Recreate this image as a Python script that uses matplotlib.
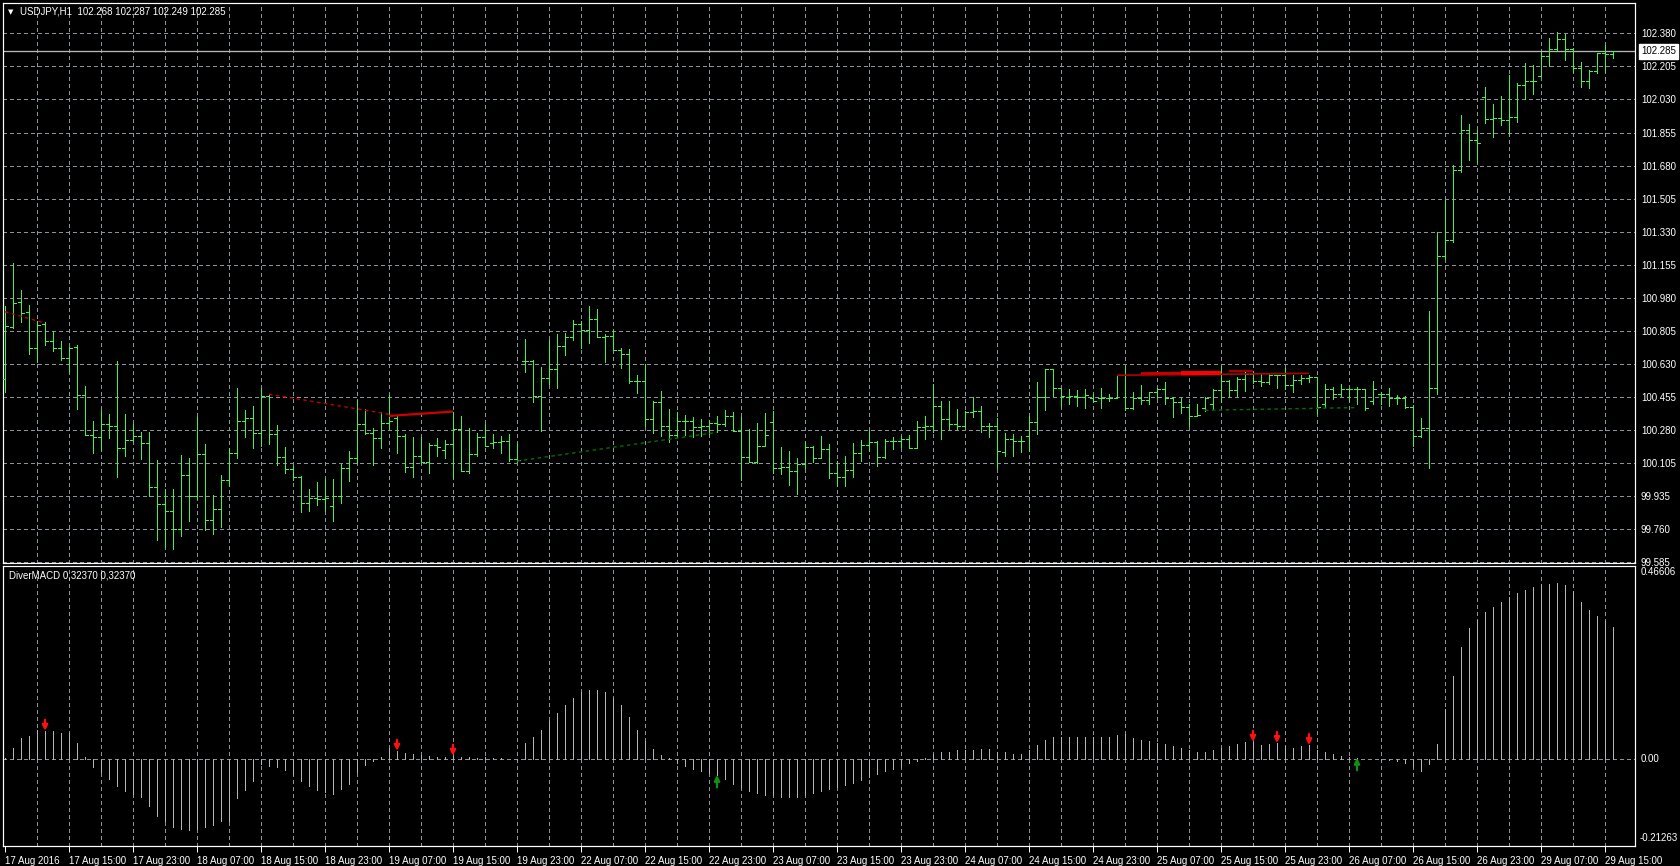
import matplotlib
matplotlib.use("Agg")
import matplotlib.pyplot as plt
import numpy as np

plt.rcParams['font.family'] = ['Liberation Sans', 'DejaVu Sans']
plt.rcParams['lines.scale_dashes'] = False

# ---------------- data ----------------
opens = [
    100.55, 100.824, 100.957, 100.906, 100.715, 100.842, 100.754, 100.715, 100.662, 100.718,
    100.466, 100.253, 100.246, 100.312, 100.303, 100.188, 100.230, 100.250, 100.213, 99.981,
    99.891, 99.852, 99.760, 100.041, 99.930, 100.153, 99.808, 99.861, 100.018, 100.161,
    100.329, 100.343, 100.268, 100.462, 100.259, 100.139, 100.077, 100.034, 99.893, 99.923,
    99.919, 99.880, 99.930, 100.082, 100.131, 100.312, 100.268, 100.241, 100.320, 100.343,
    100.250, 100.087, 100.144, 100.114, 100.202, 100.175, 100.206, 100.285, 100.064, 100.153,
    100.246, 100.213, 100.218, 100.223, 100.126, 100.648, 100.648, 100.459, 100.558, 100.605,
    100.724, 100.773, 100.844, 100.809, 100.870, 100.773, 100.777, 100.706, 100.681, 100.540,
    100.543, 100.340, 100.432, 100.305, 100.255, 100.328, 100.328, 100.296, 100.305, 100.317,
    100.314, 100.358, 100.275, 100.137, 100.110, 100.199, 100.326, 100.078, 100.084, 100.066,
    100.101, 100.190, 100.133, 100.181, 100.052, 100.034, 100.071, 100.158, 100.204, 100.216,
    100.140, 100.222, 100.222, 100.234, 100.186, 100.296, 100.300, 100.411, 100.340, 100.314,
    100.300, 100.375, 100.381, 100.305, 100.305, 100.163, 100.234, 100.225, 100.252, 100.326,
    100.455, 100.605, 100.504, 100.457, 100.462, 100.457, 100.453, 100.453, 100.453, 100.450,
    100.573, 100.397, 100.453, 100.439, 100.480, 100.497, 100.450, 100.432, 100.404, 100.356,
    100.397, 100.418, 100.492, 100.541, 100.492, 100.550, 100.580, 100.541, 100.533, 100.571,
    100.571, 100.518, 100.545, 100.559, 100.562, 100.418, 100.497, 100.471, 100.497, 100.497,
    100.497, 100.436, 100.471, 100.474, 100.453, 100.453, 100.404, 100.250, 100.291, 100.506,
    101.204, 101.284, 101.655, 101.867, 101.818, 102.044, 101.929, 101.934, 101.920, 101.938,
    102.106, 102.129, 102.154, 102.260, 102.299, 102.348, 102.299, 102.194, 102.129, 102.182,
    102.274, 102.268]

highs = [
    100.939, 101.166, 101.022, 100.943, 100.860, 100.851, 100.807, 100.754, 100.722, 100.731,
    100.515, 100.329, 100.386, 100.365, 100.644, 100.365, 100.312, 100.273, 100.273, 100.121,
    99.967, 99.967, 100.149, 100.135, 100.351, 100.206, 99.940, 100.041, 100.184, 100.501,
    100.388, 100.409, 100.501, 100.471, 100.308, 100.191, 100.089, 100.038, 99.967, 100.006,
    100.023, 100.020, 100.100, 100.170, 100.439, 100.391, 100.294, 100.379, 100.467, 100.356,
    100.259, 100.244, 100.244, 100.211, 100.241, 100.227, 100.379, 100.356, 100.294, 100.268,
    100.312, 100.259, 100.250, 100.259, 100.215, 100.763, 100.653, 100.614, 100.759, 100.787,
    100.794, 100.865, 100.858, 100.936, 100.923, 100.791, 100.812, 100.717, 100.708, 100.575,
    100.628, 100.434, 100.490, 100.390, 100.375, 100.361, 100.349, 100.340, 100.335, 100.353,
    100.388, 100.375, 100.349, 100.287, 100.319, 100.370, 100.384, 100.193, 100.172, 100.133,
    100.216, 100.199, 100.252, 100.207, 100.119, 100.146, 100.211, 100.229, 100.282, 100.222,
    100.234, 100.243, 100.252, 100.255, 100.328, 100.353, 100.526, 100.437, 100.437, 100.393,
    100.381, 100.455, 100.406, 100.317, 100.345, 100.264, 100.261, 100.252, 100.353, 100.535,
    100.605, 100.605, 100.506, 100.497, 100.492, 100.497, 100.471, 100.503, 100.474, 100.573,
    100.621, 100.484, 100.520, 100.485, 100.506, 100.533, 100.457, 100.453, 100.421, 100.418,
    100.457, 100.497, 100.621, 100.545, 100.562, 100.594, 100.585, 100.580, 100.576, 100.573,
    100.608, 100.571, 100.573, 100.573, 100.562, 100.524, 100.509, 100.524, 100.506, 100.509,
    100.497, 100.541, 100.484, 100.503, 100.468, 100.462, 100.414, 100.343, 100.909, 101.328,
    101.496, 101.682, 101.947, 101.899, 101.867, 102.097, 102.005, 102.048, 102.159, 102.115,
    102.224, 102.212, 102.283, 102.353, 102.389, 102.376, 102.300, 102.230, 102.186, 102.277,
    102.318, 102.287]

lows = [
    100.480, 100.821, 100.851, 100.683, 100.639, 100.729, 100.697, 100.651, 100.589, 100.391,
    100.253, 100.161, 100.176, 100.237, 100.034, 100.144, 100.223, 100.126, 99.930, 99.700,
    99.660, 99.650, 99.720, 99.800, 99.919, 99.750, 99.730, 99.770, 99.985, 100.135,
    100.246, 100.184, 100.197, 100.206, 100.096, 100.052, 100.015, 99.848, 99.855, 99.887,
    99.855, 99.800, 99.896, 100.011, 100.105, 100.262, 100.096, 100.188, 100.285, 100.161,
    100.059, 100.034, 100.108, 100.055, 100.144, 100.131, 100.025, 100.064, 100.055, 100.144,
    100.197, 100.188, 100.161, 100.117, 100.114, 100.586, 100.430, 100.278, 100.526, 100.504,
    100.676, 100.755, 100.717, 100.741, 100.773, 100.641, 100.706, 100.611, 100.531, 100.478,
    100.305, 100.264, 100.252, 100.216, 100.243, 100.257, 100.243, 100.252, 100.261, 100.270,
    100.305, 100.275, 100.017, 100.110, 100.105, 100.195, 100.052, 100.049, 99.990, 99.942,
    100.080, 100.110, 100.133, 100.027, 99.987, 99.987, 100.034, 100.115, 100.172, 100.093,
    100.133, 100.181, 100.193, 100.186, 100.186, 100.234, 100.270, 100.234, 100.287, 100.287,
    100.296, 100.349, 100.270, 100.243, 100.080, 100.146, 100.146, 100.167, 100.169, 100.261,
    100.388, 100.459, 100.406, 100.418, 100.409, 100.400, 100.427, 100.400, 100.435, 100.450,
    100.386, 100.391, 100.421, 100.418, 100.453, 100.421, 100.351, 100.374, 100.303, 100.356,
    100.382, 100.391, 100.427, 100.457, 100.462, 100.488, 100.531, 100.515, 100.527, 100.506,
    100.497, 100.484, 100.524, 100.538, 100.366, 100.402, 100.444, 100.462, 100.436, 100.418,
    100.386, 100.418, 100.418, 100.409, 100.421, 100.397, 100.197, 100.245, 100.080, 100.471,
    101.187, 101.275, 101.646, 101.708, 101.699, 101.903, 101.832, 101.894, 101.836, 101.912,
    102.030, 102.058, 102.154, 102.207, 102.292, 102.239, 102.177, 102.097, 102.088, 102.168,
    102.177, 102.249]

closes = [
    100.831, 100.955, 100.902, 100.715, 100.837, 100.754, 100.715, 100.662, 100.717, 100.466,
    100.253, 100.246, 100.312, 100.303, 100.188, 100.230, 100.250, 100.213, 99.981, 99.891,
    99.852, 99.760, 100.041, 99.930, 100.153, 99.808, 99.861, 100.018, 100.161, 100.329,
    100.343, 100.268, 100.462, 100.259, 100.139, 100.077, 100.034, 99.893, 99.923, 99.919,
    99.920, 99.930, 100.082, 100.131, 100.312, 100.268, 100.241, 100.320, 100.329, 100.250,
    100.087, 100.144, 100.114, 100.202, 100.193, 100.206, 100.285, 100.064, 100.153, 100.246,
    100.197, 100.216, 100.223, 100.126, 100.121, 100.648, 100.460, 100.558, 100.605, 100.724,
    100.773, 100.844, 100.809, 100.870, 100.773, 100.777, 100.706, 100.681, 100.540, 100.543,
    100.340, 100.432, 100.305, 100.255, 100.328, 100.328, 100.296, 100.305, 100.317, 100.314,
    100.358, 100.275, 100.137, 100.110, 100.199, 100.255, 100.078, 100.084, 100.066, 100.101,
    100.190, 100.133, 100.181, 100.052, 100.034, 100.071, 100.158, 100.204, 100.216, 100.140,
    100.222, 100.222, 100.234, 100.186, 100.296, 100.300, 100.411, 100.340, 100.314, 100.300,
    100.375, 100.381, 100.305, 100.305, 100.172, 100.234, 100.225, 100.225, 100.326, 100.455,
    100.605, 100.504, 100.460, 100.462, 100.457, 100.468, 100.436, 100.453, 100.450, 100.573,
    100.397, 100.453, 100.439, 100.480, 100.497, 100.450, 100.432, 100.404, 100.356, 100.361,
    100.453, 100.492, 100.541, 100.492, 100.550, 100.580, 100.541, 100.533, 100.571, 100.571,
    100.518, 100.545, 100.559, 100.562, 100.402, 100.497, 100.471, 100.497, 100.497, 100.497,
    100.400, 100.497, 100.474, 100.453, 100.453, 100.404, 100.250, 100.294, 100.506, 101.204,
    101.284, 101.655, 101.867, 101.818, 101.800, 101.929, 101.934, 101.920, 101.938, 102.106,
    102.129, 102.129, 102.260, 102.299, 102.348, 102.299, 102.194, 102.129, 102.182, 102.274,
    102.270, 102.285]

macd = [
    0.002, 0.028, 0.052, 0.057, 0.071, 0.069, 0.069, 0.063, 0.063, 0.040,
    0.006, -0.020, -0.032, -0.050, -0.067, -0.079, -0.086, -0.092, -0.114, -0.139,
    -0.152, -0.167, -0.171, -0.173, -0.171, -0.167, -0.161, -0.152, -0.152, -0.096,
    -0.077, -0.053, -0.012, -0.016, -0.020, -0.028, -0.036, -0.055, -0.065, -0.075,
    -0.081, -0.086, -0.073, -0.060, -0.032, -0.014, -0.004, 0.006, 0.028, 0.020,
    0.015, 0.012, 0.010, 0.008, 0.006, 0.005, 0.008, 0.006, 0.004, 0.003,
    0.004, 0.003, 0.002, 0.001, -0.002, 0.039, 0.055, 0.071, 0.092, 0.113,
    0.131, 0.149, 0.163, 0.168, 0.168, 0.163, 0.149, 0.131, 0.102, 0.071,
    0.045, 0.024, 0.010, 0.003, -0.010, -0.018, -0.024, -0.029, -0.034, -0.039,
    -0.050, -0.060, -0.071, -0.079, -0.084, -0.087, -0.089, -0.092, -0.092, -0.092,
    -0.089, -0.084, -0.079, -0.073, -0.068, -0.063, -0.058, -0.052, -0.045, -0.037,
    -0.029, -0.024, -0.016, -0.010, -0.005, 0.003, 0.013, 0.016, 0.018, 0.021,
    0.021, 0.021, 0.024, 0.024, 0.018, 0.016, 0.013, 0.013, 0.021, 0.034,
    0.047, 0.055, 0.055, 0.055, 0.055, 0.055, 0.055, 0.055, 0.055, 0.058,
    0.060, 0.052, 0.047, 0.045, 0.039, 0.037, 0.031, 0.026, 0.021, 0.018,
    0.018, 0.021, 0.026, 0.031, 0.037, 0.042, 0.042, 0.034, 0.037, 0.039,
    0.031, 0.026, 0.031, 0.034, 0.021, 0.016, 0.013, 0.008, 0.005, 0.003,
    0.001, -0.001, -0.002, -0.003, -0.005, -0.010, -0.018, -0.029, -0.013, 0.037,
    0.123, 0.202, 0.273, 0.320, 0.341, 0.359, 0.372, 0.385, 0.396, 0.406,
    0.414, 0.422, 0.425, 0.428, 0.430, 0.425, 0.410, 0.385, 0.365, 0.350,
    0.338, 0.3237]

# divergence arrows on the indicator (bar indices)
sell_arrows = [5, 49, 56, 156, 159, 163]
buy_arrows = [89, 169]

# divergence trend lines on the price chart: (bar0, bar1), (price0, price1)
div_bars = [(0, 5), (33, 48), (48, 56), (64, 89), (139, 163), (142, 147), (147, 152), (153, 156), (150, 169)]
div_prices = [(100.907, 100.847), (100.471, 100.365), (100.356, 100.379), (100.117, 100.269),
              (100.571, 100.581), (100.580, 100.582), (100.582, 100.583), (100.592, 100.592),
              (100.386, 100.400)]
div_styles = [('#C00000', 'dash', 1.0), ('#C00000', 'dash', 1.0), ('#D00000', 'solid', 1.6),
              ('#007000', 'dash', 1.0), ('#B40000', 'solid', 1.2), ('#C80000', 'solid', 2.0),
              ('#FF0000', 'solid', 3.0), ('#A00000', 'solid', 1.5), ('#007000', 'dash', 1.0)]

price_ticks = [102.380, 102.205, 102.030, 101.855, 101.680, 101.505, 101.330, 101.155, 100.980,
               100.805, 100.630, 100.455, 100.280, 100.105, 99.935, 99.760, 99.585]
price_labels = ['102.380', '102.205', '102.030', '101.855', '101.680', '101.505', '101.330',
                '101.155', '100.980', '100.805', '100.630', '100.455', '100.280', '100.105',
                '99.935', '99.760', '99.585']

date_labels = ['17 Aug 2016', '17 Aug 15:00', '17 Aug 23:00', '18 Aug 07:00', '18 Aug 15:00',
               '18 Aug 23:00', '19 Aug 07:00', '19 Aug 15:00', '19 Aug 23:00', '22 Aug 07:00',
               '22 Aug 15:00', '22 Aug 23:00', '23 Aug 07:00', '23 Aug 15:00', '23 Aug 23:00',
               '24 Aug 07:00', '24 Aug 15:00', '24 Aug 23:00', '25 Aug 07:00', '25 Aug 15:00',
               '25 Aug 23:00', '26 Aug 07:00', '26 Aug 15:00', '26 Aug 23:00', '29 Aug 07:00',
               '29 Aug 15:00']
date_bars = list(range(0, 201, 8))

last_price = 102.285
header = 'USDJPY,H1  102.268 102.287 102.249 102.285'
ind_header = 'DiverMACD 0,32370 0,32370'
ind_top, ind_bottom = 0.46606, -0.21263

# ---------------- style ----------------
BG = 'black'
GREEN = '#46F046'
GRID = '#8A939C'
HIST = '#B4B4B4'
WHITE = 'white'
FS = 7
PX = 0.72  # one pixel in points
DASH = (0, (2.2, 2.2))

W, H = 1680, 866
fig = plt.figure(figsize=(W / 100, H / 100), dpi=100, facecolor=BG)


def box(x0, y0, x1, y1):
    return [x0 / W, 1 - y1 / H, (x1 - x0) / W, (y1 - y0) / H]


ax = fig.add_axes(box(3, 3, 1635, 563), facecolor=BG)
axm = fig.add_axes(box(3, 566, 1635, 846), facecolor=BG)

n = len(opens)
x = np.arange(n)

for a in (ax, axm):
    a.set_xlim(-0.25, 203.75)
    for s in a.spines.values():
        s.set_color(WHITE)
        s.set_linewidth(PX * 1.2)
    for v in range(4, 201, 4):
        a.axvline(v, color=GRID, lw=PX, ls=DASH, zorder=0.5, antialiased=False)

# ---- price panel ----
ax.set_ylim(99.578, 102.540)
for p in price_ticks:
    ax.axhline(p, color=GRID, lw=PX, ls=DASH, zorder=0.5, antialiased=False)

ax.vlines(x, lows, highs, color=GREEN, lw=PX, zorder=3, antialiased=False)
ax.hlines(opens, x - 0.375, x, color=GREEN, lw=PX, zorder=3, antialiased=False)
ax.hlines(closes, x, x + 0.375, color=GREEN, lw=PX, zorder=3, antialiased=False)

for (b0, b1), (p0, p1), (col, st, lw) in zip(div_bars, div_prices, div_styles):
    ls = (0, (2.5, 2.5)) if st == 'dash' else '-'
    ax.plot([b0, b1], [p0, p1], color=col, lw=lw, ls=ls, zorder=4, solid_capstyle='butt')

ax.axhline(last_price, color='#B8B8B8', lw=PX * 1.3, zorder=2)

ax.yaxis.tick_right()
ax.set_yticks(price_ticks)
ax.set_yticklabels(price_labels)
ax.tick_params(axis='y', length=0, pad=4.3, labelcolor=WHITE, labelsize=FS)
ax.set_xticks([])
ax.annotate(f'{last_price:.3f}', xy=(1, last_price), xycoords=('axes fraction', 'data'),
            xytext=(4.3, 0), textcoords='offset points', ha='left', va='center',
            color='black', fontsize=FS, zorder=10, annotation_clip=False,
            bbox=dict(boxstyle='square,pad=0.25', fc='white', ec='white'))

# ---- indicator panel ----
axm.set_ylim(-0.2129, 0.4723)
axm.axhline(0, color=GRID, lw=PX, ls=DASH, zorder=0.5, antialiased=False)
axm.vlines(x, 0, macd, color=HIST, lw=PX, zorder=3, antialiased=False)

for b in sell_arrows:
    axm.annotate('', xy=(b, macd[b]), xycoords='data', xytext=(0, 8), textcoords='offset points',
                 arrowprops=dict(arrowstyle='-|>', color='#FF1010', lw=1.6,
                                 mutation_scale=8, shrinkA=0, shrinkB=0), zorder=6)
for b in buy_arrows:
    axm.annotate('', xy=(b, macd[b]), xycoords='data', xytext=(0, -9), textcoords='offset points',
                 arrowprops=dict(arrowstyle='-|>', color='#109010', lw=1.6,
                                 mutation_scale=8, shrinkA=0, shrinkB=0), zorder=6)

axm.set_yticks([])
axm.text(1.0037, 0.995, f'{ind_top:.5f}', transform=axm.transAxes, ha='left', va='top',
         color=WHITE, fontsize=FS)
axm.annotate('0.00', xy=(1, 0), xycoords=('axes fraction', 'data'), xytext=(4.3, 0),
             textcoords='offset points', ha='left', va='center', color=WHITE, fontsize=FS,
             annotation_clip=False)
axm.text(1.0025, 0.012, f'{ind_bottom:.5f}', transform=axm.transAxes, ha='left', va='bottom',
         color=WHITE, fontsize=FS)

axm.set_xticks(date_bars)
axm.set_xticklabels(date_labels, ha='left')
axm.tick_params(axis='x', length=4, width=PX, color=WHITE, pad=3.0, labelcolor=WHITE,
                labelsize=FS)

# ---- headers ----
fig.text(11 / W, 1 - 12 / H, '\u25BC', color=WHITE, fontsize=5, ha='center', va='center',
         family=['DejaVu Sans'])
fig.text(20 / W, 1 - 12 / H, header, color=WHITE, fontsize=FS, ha='left', va='center')
fig.text(9 / W, 1 - 576 / H, ind_header, color=WHITE, fontsize=FS, ha='left', va='center')

fig.savefig('out.png', dpi=100, facecolor=BG)
